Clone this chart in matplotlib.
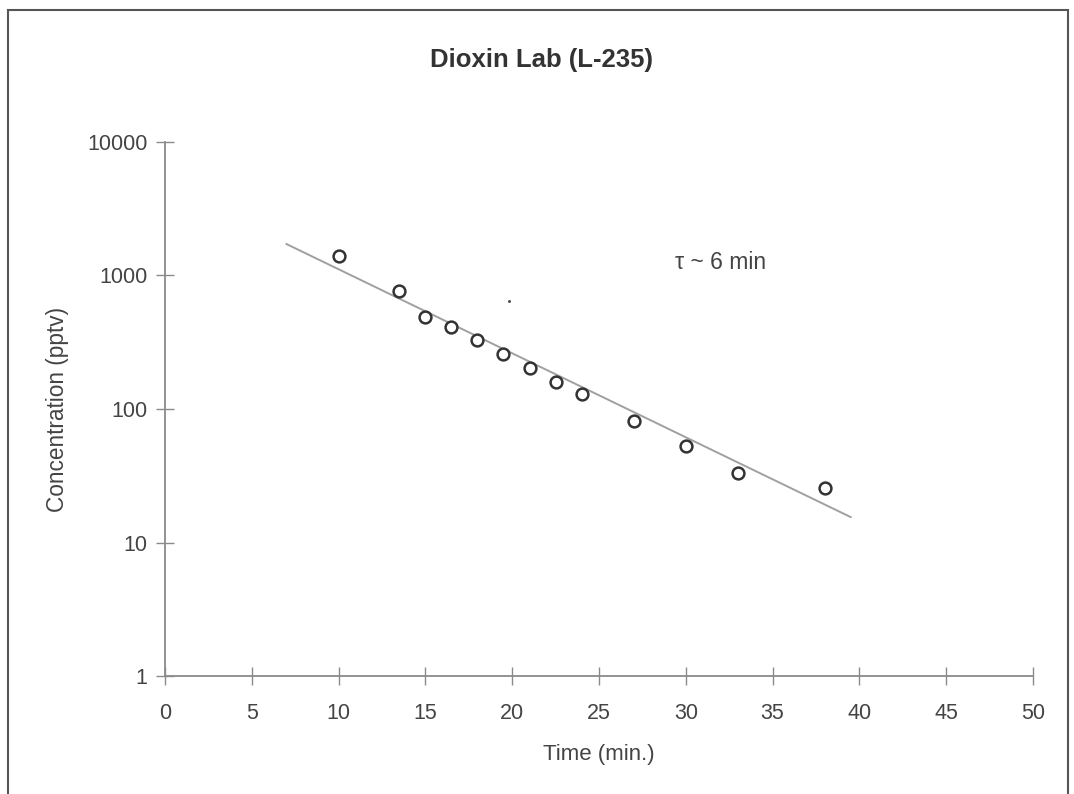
import matplotlib
matplotlib.use("Agg")
import matplotlib.pyplot as plt
from matplotlib.patches import Rectangle

# data
time_min = [10, 13.5, 15, 16.5, 18, 19.5, 21, 22.5, 24, 27, 30, 33, 38]
conc_pptv = [1400, 765, 490, 411, 329, 258, 203, 159, 130, 81, 53, 33, 25.6]

# exponential fit line (end points)
fit_t = [7, 39.5]
fit_c = [1720, 15.5]

# stray speck in the original
speck_t = [19.8]
speck_c = [640]

x_ticks = [0, 5, 10, 15, 20, 25, 30, 35, 40, 45, 50]
y_ticks = [1, 10, 100, 1000, 10000]
y_ticklabels = ["1", "10", "100", "1000", "10000"]

plt.rcParams['font.family'] = ['Liberation Sans', 'DejaVu Sans']

axis_col = "#8a8a8a"
text_col = "#444444"

fig = plt.figure(figsize=(10.74, 7.94), dpi=100)
ax = fig.add_axes([0.1536, 0.1486, 0.8082, 0.6726])

ax.plot(fit_t, fit_c, color="#a0a0a0", lw=1.4, zorder=2)
ax.plot(time_min, conc_pptv, linestyle="none", marker="o", ms=8.5,
        mfc="white", mec="#333333", mew=1.8, zorder=3)
ax.plot(speck_t, speck_c, linestyle="none", marker="o", ms=1.2,
        color="#555555", zorder=3)

ax.set_yscale("log")
ax.set_xlim(0, 50)
ax.set_ylim(1, 10000)
ax.set_xticks(x_ticks)
ax.set_yticks(y_ticks)
ax.set_yticklabels(y_ticklabels)
ax.minorticks_off()

for s in ["top", "right"]:
    ax.spines[s].set_visible(False)
for s in ["left", "bottom"]:
    ax.spines[s].set_color(axis_col)
    ax.spines[s].set_linewidth(1.3)

ax.tick_params(direction="inout", length=13, width=1.0, color=axis_col,
               labelcolor=text_col, labelsize=15.5)
ax.tick_params(axis="x", pad=13)
ax.tick_params(axis="y", pad=6)

ax.set_xlabel("Time (min.)", fontsize=16, color=text_col, labelpad=14)
ax.set_ylabel("Concentration (pptv)", fontsize=16.3, color=text_col, labelpad=13)

ax.text(29.4, 1260, "\u03c4 ~ 6 min", fontsize=16.5, color=text_col,
        va="center", ha="left")

fig.text(0.5045, 0.925, "Dioxin Lab (L-235)", fontsize=18.5, fontweight="bold",
         color="#333333", ha="center", va="center")

# outer frame
fig.patches.append(Rectangle((0.0075, -0.05), 0.987, 1.037,
                             transform=fig.transFigure, fill=False,
                             edgecolor="#555555", lw=1.5))

fig.savefig("out.png", dpi=100)
